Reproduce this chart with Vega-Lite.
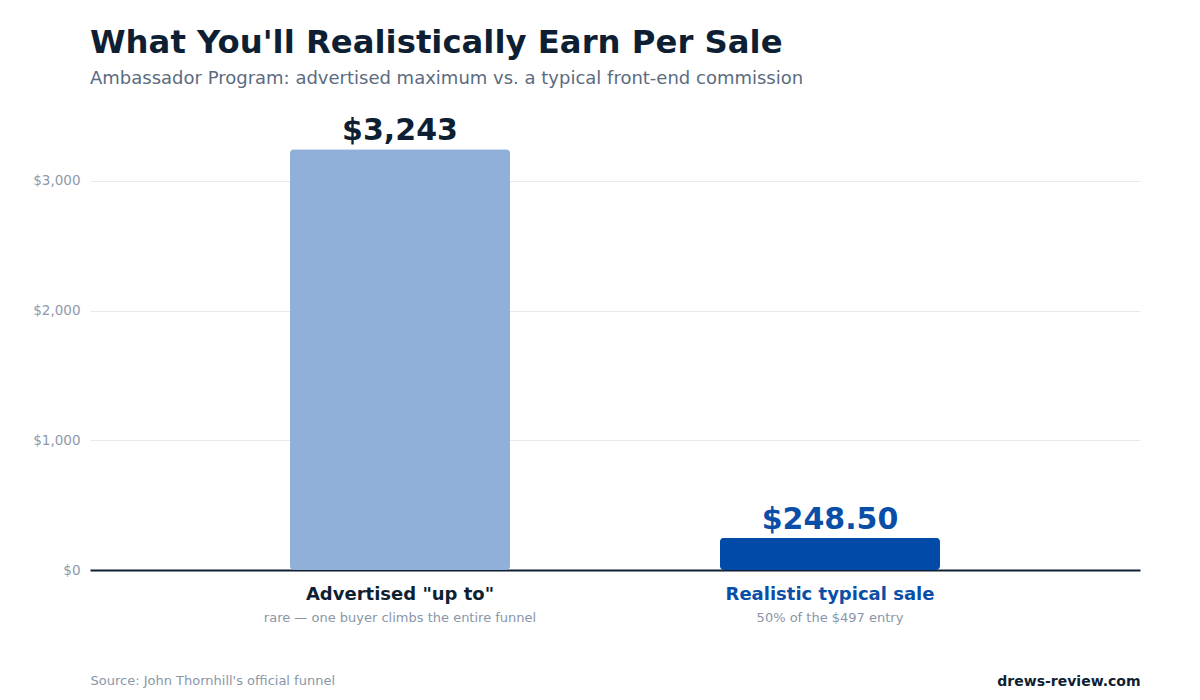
{
  "$schema": "https://vega.github.io/schema/vega-lite/v6.json",
  "width": 1050,
  "height": 454,
  "autosize": {"type": "none"},
  "padding": {"left": 90, "top": 116, "right": 60, "bottom": 130},
  "background": "#ffffff",
  "config": {
    "font": "DejaVu Sans",
    "view": {"stroke": null}
  },
  "title": {
    "text": "What You'll Realistically Earn Per Sale",
    "subtitle": "Ambassador Program: advertised maximum vs. a typical front-end commission",
    "anchor": "start",
    "frame": "group",
    "font": "DejaVu Sans",
    "fontSize": 32.3,
    "fontWeight": "bold",
    "color": "#0f1f33",
    "subtitleFont": "DejaVu Sans",
    "subtitleFontSize": 18,
    "subtitleColor": "#5b6b80",
    "subtitlePadding": 11,
    "offset": 28
  },
  "data": {
    "values": [
      {"label": "Advertised \"up to\"", "value": 3243, "display": "$3,243", "note": "rare — one buyer climbs the entire funnel"},
      {"label": "Realistic typical sale", "value": 248.5, "display": "$248.50", "note": "50% of the $497 entry"}
    ]
  },
  "resolve": {"axis": {"x": "independent"}},
  "layer": [
    {
      "mark": {"type": "bar", "cornerRadius": 4},
      "encoding": {
        "x": {
          "field": "label", "type": "nominal", "sort": null,
          "scale": {"paddingInner": 0.488, "paddingOuter": 0.465},
          "axis": {
            "orient": "bottom",
            "labelAngle": 0,
            "ticks": false,
            "domain": true,
            "domainColor": "#0f1f33",
            "domainWidth": 2,
            "labelFontSize": 18,
            "labelFontWeight": "bold",
            "labelPadding": 15,
            "labelLimit": 0,
            "labelColor": {"condition": {"test": "datum.value === 'Realistic typical sale'", "value": "#0a4ea8"}, "value": "#0f1f33"},
            "title": "Source: John Thornhill's official funnel",
            "titleAnchor": "start",
            "titleAlign": "left",
            "titleFontSize": 13,
            "titleFontWeight": "normal",
            "titleColor": "#8a96a8",
            "titlePadding": 71
          }
        },
        "y": {
          "field": "value", "type": "quantitative",
          "scale": {"domain": [0, 3500], "nice": false},
          "axis": {
            "values": [0, 1000, 2000, 3000],
            "format": "$,.0f",
            "title": null,
            "domain": false,
            "ticks": false,
            "labelFontSize": 13.5,
            "labelColor": "#8e9aab",
            "labelPadding": 10,
            "gridColor": "#e6e9ee",
            "gridWidth": 1
          }
        },
        "color": {
          "field": "label", "type": "nominal", "sort": null,
          "scale": {"range": ["#90afd9", "#024aa8"]},
          "legend": null
        }
      }
    },
    {
      "mark": {"type": "text", "baseline": "alphabetic", "dy": -9, "fontSize": 30, "fontWeight": "bold"},
      "encoding": {
        "x": {"field": "label", "type": "nominal", "sort": null, "axis": null},
        "y": {"field": "value", "type": "quantitative"},
        "text": {"field": "display"},
        "color": {
          "condition": {"test": "datum.label === 'Realistic typical sale'", "value": "#0a4ea8"},
          "value": "#0f1f33"
        }
      }
    },
    {
      "mark": {"type": "text", "baseline": "alphabetic", "dy": 52, "fontSize": 13, "color": "#8a96a8"},
      "encoding": {
        "x": {
          "field": "label", "type": "nominal", "sort": null,
          "axis": {
            "orient": "bottom",
            "labels": false,
            "ticks": false,
            "domain": false,
            "grid": false,
            "title": "drews-review.com",
            "titleAnchor": "end",
            "titleAlign": "right",
            "titleFontSize": 14,
            "titleFontWeight": "bold",
            "titleColor": "#0f1f33",
            "titlePadding": 104
          }
        },
        "y": {"datum": 0},
        "text": {"field": "note"}
      }
    }
  ]
}
